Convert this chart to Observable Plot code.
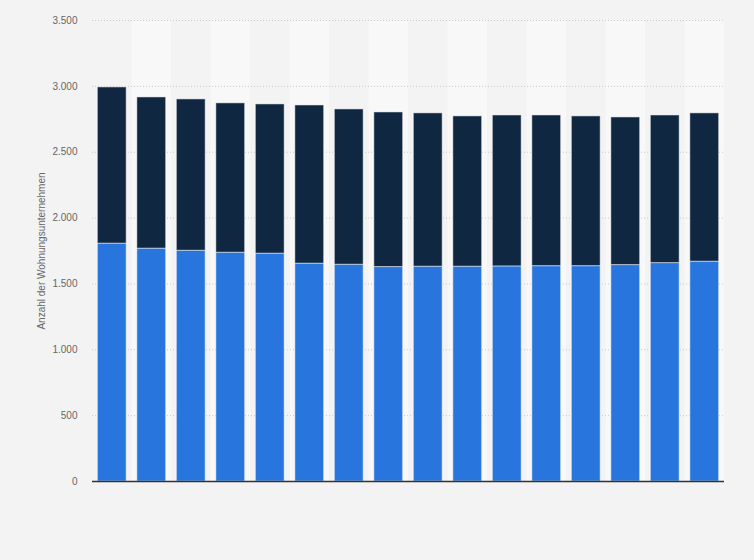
<!DOCTYPE html>
<html><head><meta charset="utf-8">
<script src="https://cdn.jsdelivr.net/npm/d3@7"></script>
<script src="https://cdn.jsdelivr.net/npm/@observablehq/plot@0.6"></script>
<style>
html,body{margin:0;padding:0;background:#f3f3f3;}
#chart{width:754px;height:560px;}
</style></head><body><div id="chart"></div>
<script>
const categories = ["1","2","3","4","5","6","7","8","9","10","11","12","13","14","15","16"];
const seriesNames = ["Untere Gruppe","Obere Gruppe"];
const lowerValues = [1806,1768,1752,1737,1730,1654,1646,1628,1631,1631,1633,1635,1635,1643,1658,1669];
const upperValues = [1186,1148,1149,1134,1133,1201,1179,1174,1164,1141,1146,1144,1137,1121,1121,1126];
const yTicks = [0,500,1000,1500,2000,2500,3000,3500];
const yLabel = "Anzahl der Wohnungsunternehmen";

const fmt = d3.formatLocale({decimal:",", thousands:".", grouping:[3], currency:["","€"]}).format(",");

const rows = [];
categories.forEach((c,i)=>{
  rows.push({cat:c, series:seriesNames[0], value:lowerValues[i]});
  rows.push({cat:c, series:seriesNames[1], value:upperValues[i]});
});
const stripes = categories.filter((c,i)=>i%2===1);

const plot = Plot.plot({
  width:754, height:560,
  marginLeft:92, marginRight:30, marginTop:20, marginBottom:79,
  style:{background:"#f3f3f3", fontFamily:"'Liberation Sans', Arial, sans-serif", fontSize:"10px", color:"#666"},
  x:{domain:categories, paddingInner:0.27, paddingOuter:0.135, round:false, axis:null},
  y:{domain:[0,3500], label:null, axis:null},
  color:{domain:seriesNames, range:["#2876dd","#0f2740"]},
  marks:[
    Plot.barY(stripes, {x:d=>d, y1:0, y2:3500, fill:"#f8f8f8", insetLeft:-5.34, insetRight:-5.34}),
    Plot.ruleY(yTicks.filter(t=>t>0), {stroke:"#c8c8c8", strokeDasharray:"1,2"}),
    Plot.axisY({ticks:yTicks, tickFormat:fmt, tickSize:0, tickPadding:15, fill:"#666", label:null}),
    Plot.barY(rows, {x:"cat", y:"value", fill:"series", stroke:"#ffffff", strokeOpacity:0.5, strokeWidth:1}),
    Plot.ruleY([0], {stroke:"#333", strokeWidth:1.5}),
    Plot.text([yLabel], {text:d=>d, frameAnchor:"left", textAnchor:"middle", rotate:-90, dx:-51, fill:"#666", fontSize:10})
  ]
});
document.getElementById("chart").appendChild(plot);
</script>
</body></html>
